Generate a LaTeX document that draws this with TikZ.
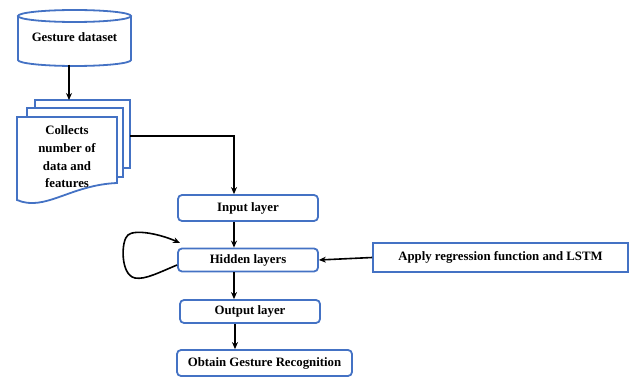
\documentclass[tikz,border=0pt]{standalone}
\usepackage{fontspec}
\setmainfont{Liberation Serif}
\usetikzlibrary{arrows.meta}
\definecolor{boxblue}{RGB}{68,114,196}
\begin{document}
\begin{tikzpicture}[x=1pt,y=1pt,
  shp/.style={draw=boxblue,line width=1.8pt,fill=white},
  lay/.style={draw=boxblue,line width=1.8pt,rounded corners=4pt,fill=white,inner sep=0pt,
     font=\fontsize{12.8}{14}\selectfont\bfseries},
  txt/.style={inner sep=0pt,font=\fontsize{12.8}{14}\selectfont\bfseries,align=center},
  arr/.style={black,line width=1.6pt,-{Stealth[length=7pt,width=6pt]}}]
\useasboundingbox (0,0) rectangle (633,-377);
% cylinder
\draw[shp] (18,-16) -- (18,-60) arc[start angle=180,end angle=360,x radius=56.5,y radius=6] -- (131,-16);
\draw[shp] (74.5,-16) ellipse[x radius=56.5,y radius=6];
\node[txt] (ds) at (74.5,-37) {Gesture dataset};
% multi document
\draw[shp] (35,-100) rectangle (130,-168);
\draw[shp] (27,-108) rectangle (123,-177);
\draw[shp] (17,-117) -- (117,-117) -- (117,-183) .. controls (70,-185) and (45,-212) .. (17,-200) -- cycle;
\coordinate (docr) at (130,-136);
\coordinate (doct) at (69,-100);
\node[txt,font=\fontsize{12.8}{17.7}\selectfont\bfseries] (coll) at (67,-157) {Collects\\number of\\data and\\features};
% layers
\node[lay,minimum width=140pt,minimum height=26pt] (in) at (248,-208) {Input layer};
\node[lay,minimum width=140pt,minimum height=23pt] (hid) at (248,-260) {Hidden layers};
\node[lay,minimum width=140pt,minimum height=23pt] (out) at (250,-311.5) {Output layer};
\node[lay,minimum width=175pt,minimum height=26pt] (obt) at (264.5,-363) {Obtain Gesture Recognition};
\node[lay,rounded corners=0pt,minimum width=255pt,minimum height=29pt] (app) at (500.5,-257.5) {Apply regression function and LSTM};
% connectors
\draw[arr] (ds.south -| doct) ++(0,-23) -- (doct);
\draw[arr] (docr) -- (234,-136) -- (in.north -| 234,0);
\draw[arr] (in.south -| 234,0) -- (hid.north -| 234,0);
\draw[arr] (hid.south -| 234,0) -- (out.north -| 234,0);
\draw[arr] (out.south -| 235,0) -- (obt.north -| 235,0);
\draw[arr] (app.west) -- (hid.east);
\draw[arr] (hid.west |- 0,-265) .. controls (160,-272) and (145,-280) .. (135,-278)
  .. controls (120,-275) and (121,-240) .. (128,-235)
  .. controls (135,-229) and (160,-234) .. (180,-243);
\end{tikzpicture}
\end{document}
